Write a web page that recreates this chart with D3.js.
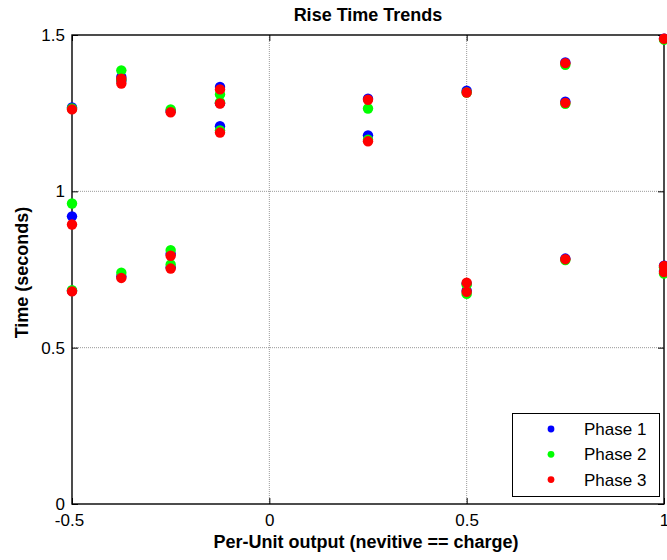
<!DOCTYPE html>
<html>
<head>
<meta charset="utf-8">
<script src="https://cdn.jsdelivr.net/npm/d3@7"></script>
<style>
  html, body { margin: 0; padding: 0; background: #fff; }
  svg { display: block; font-family: "Liberation Sans", Arial, sans-serif; }
</style>
</head>
<body>
<svg id="chart" width="667" height="560"></svg>
<script>
// ---- Data ----
const phaseNames = ["Phase 1", "Phase 2", "Phase 3"];
const phaseColors = ["#0000ff", "#00ff00", "#ff0000"];

const phase1X = [-0.5, -0.5, -0.5, -0.375, -0.375, -0.375, -0.25, -0.25, -0.25, -0.125, -0.125, -0.125, 0.25, 0.25, 0.5, 0.5, 0.5, 0.75, 0.75, 0.75, 1, 1, 1];
const phase1Y = [1.268, 0.920, 0.682, 1.366, 1.354, 0.728, 1.257, 0.800, 0.757, 1.334, 1.282, 1.208, 1.296, 1.179, 1.322, 0.705, 0.682, 1.412, 1.287, 0.785, 1.488, 0.762, 0.745];

const phase2X = [-0.5, -0.5, -0.5, -0.375, -0.375, -0.375, -0.25, -0.25, -0.25, -0.125, -0.125, -0.125, 0.25, 0.25, 0.5, 0.5, 0.5, 0.75, 0.75, 0.75, 1, 1, 1];
const phase2Y = [1.265, 0.961, 0.684, 1.387, 1.357, 0.740, 1.262, 0.812, 0.766, 1.310, 1.285, 1.195, 1.265, 1.165, 1.316, 0.701, 0.672, 1.405, 1.280, 0.780, 1.485, 0.757, 0.737];

const phase3X = [-0.5, -0.5, -0.5, -0.375, -0.375, -0.375, -0.25, -0.25, -0.25, -0.125, -0.125, -0.125, 0.25, 0.25, 0.5, 0.5, 0.5, 0.75, 0.75, 0.75, 1, 1, 1];
const phase3Y = [1.262, 0.894, 0.680, 1.360, 1.345, 0.723, 1.253, 0.794, 0.753, 1.326, 1.281, 1.188, 1.293, 1.160, 1.316, 0.708, 0.679, 1.410, 1.283, 0.783, 1.488, 0.761, 0.742];

const xTicks = [-0.5, 0, 0.5, 1];
const xTickLabels = ["-0.5", "0", "0.5", "1"];
const yTicks = [0, 0.5, 1, 1.5];
const yTickLabels = ["0", "0.5", "1", "1.5"];

const titleText = "Rise Time Trends";
const xLabelText = "Per-Unit output (nevitive == charge)";
const yLabelText = "Time (seconds)";

// ---- Layout ----
const svg = d3.select("#chart");
const L = 72, T = 35, R = 664, B = 504;
const W = R - L, H = B - T;
const fs = 17, fsb = 18;

const x = d3.scaleLinear().domain([-0.5, 1]).range([L, R]);
const y = d3.scaleLinear().domain([0, 1.5]).range([B, T]);

// grid
const grid = svg.append("g");
grid.selectAll("line.gx").data(xTicks.filter(d => d > -0.5 && d < 1)).enter()
  .append("line")
  .attr("x1", d => x(d)).attr("x2", d => x(d))
  .attr("y1", T).attr("y2", B)
  .attr("stroke", "#9a9a9a").attr("stroke-width", 1).attr("stroke-dasharray", "1,1");
grid.selectAll("line.gy").data(yTicks.filter(d => d > 0 && d < 1.5)).enter()
  .append("line")
  .attr("x1", L).attr("x2", R)
  .attr("y1", d => y(d)).attr("y2", d => y(d))
  .attr("stroke", "#9a9a9a").attr("stroke-width", 1).attr("stroke-dasharray", "1,1");

// axes
const xAxis = d3.axisBottom(x).tickValues(xTicks).tickFormat((d, i) => xTickLabels[i]).tickSize(-6).tickPadding(10);
const yAxis = d3.axisLeft(y).tickValues(yTicks).tickFormat((d, i) => yTickLabels[i]).tickSize(-6).tickPadding(7);
const xTop = d3.axisTop(x).tickValues(xTicks).tickFormat("").tickSize(-6);
const yRight = d3.axisRight(y).tickValues(yTicks).tickFormat("").tickSize(-6);

function style(g) {
  g.select(".domain").remove();
  g.selectAll(".tick line").attr("stroke", "#000").attr("stroke-width", 1);
  g.selectAll(".tick text").attr("fill", "#000").attr("font-size", fs).attr("font-family", "Liberation Sans, Arial, sans-serif");
}
const gx = svg.append("g").attr("transform", `translate(0,${B})`).call(xAxis).call(style);
gx.selectAll(".tick text").attr("dx", (d, i) => i === 0 ? -3 : 0);
svg.append("g").attr("transform", `translate(${L},0)`).call(yAxis).call(style);
svg.append("g").attr("transform", `translate(0,${T})`).call(xTop).call(style);
svg.append("g").attr("transform", `translate(${R},0)`).call(yRight).call(style);

// box
svg.append("rect").attr("x", L).attr("y", T).attr("width", W).attr("height", H)
  .attr("fill", "none").attr("stroke", "#000").attr("stroke-width", 1.4);

// points
const phases = [[phase1X, phase1Y], [phase2X, phase2Y], [phase3X, phase3Y]];
phases.forEach((p, k) => {
  const pts = p[0].map((xv, i) => [xv, p[1][i]]);
  svg.append("g").selectAll("circle").data(pts).enter()
    .append("circle")
    .attr("cx", d => x(d[0])).attr("cy", d => y(d[1]))
    .attr("r", 5.2).attr("fill", phaseColors[k]);
});

// title & labels
svg.append("text").attr("x", (L + R) / 2).attr("y", 21).attr("text-anchor", "middle")
  .attr("font-size", fsb).attr("font-weight", "bold").text(titleText);
svg.append("text").attr("x", 366).attr("y", 548).attr("text-anchor", "middle")
  .attr("font-size", fsb).attr("font-weight", "bold").text(xLabelText);
svg.append("text").attr("transform", `translate(28,${(T + B) / 2 + 3}) rotate(-90)`).attr("text-anchor", "middle")
  .attr("font-size", fsb).attr("font-weight", "bold").text(yLabelText);

// legend
const lg = svg.append("g");
lg.append("rect").attr("x", 512.5).attr("y", 413.5).attr("width", 147).attr("height", 83)
  .attr("fill", "#fff").attr("stroke", "#000").attr("stroke-width", 1);
phaseNames.forEach((n, k) => {
  const cy = 429 + k * 25.3;
  lg.append("circle").attr("cx", 551).attr("cy", cy).attr("r", 3.4).attr("fill", phaseColors[k]);
  lg.append("text").attr("x", 584).attr("y", cy + 6).attr("font-size", fs).text(n);
});
</script>
</body>
</html>
